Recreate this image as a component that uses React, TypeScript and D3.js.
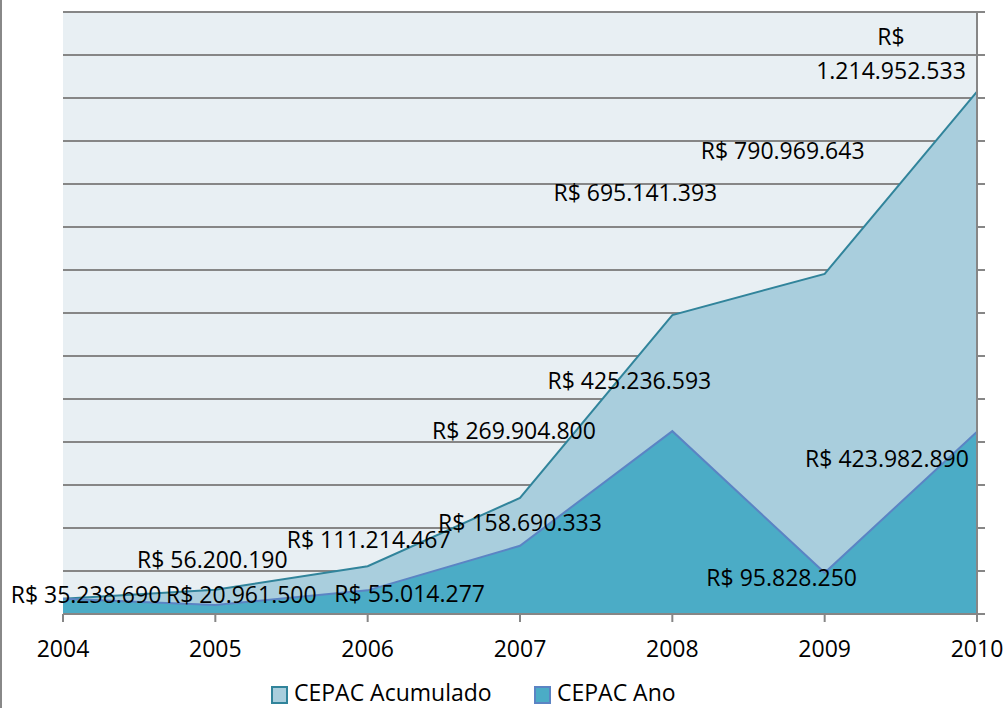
import React from "react";
import * as d3 from "d3";

const years = [2004, 2005, 2006, 2007, 2008, 2009, 2010];
const acumulado = [35238690, 56200190, 111214467, 269904800, 695141393, 790969643, 1214952533];
const ano = [35238690, 20961500, 55014277, 158690333, 425236593, 95828250, 423982890];
const seriesNames = ["CEPAC Acumulado", "CEPAC Ano"];
const yTicks = d3.range(0, 1400000001, 100000000);

// label offsets (pixels) from each data point, as Excel placed them
const acumOffsets = [[23, 4], [-3, -22], [1, -18], [-6, -59], [-37, -114], [-42, -115], [-86, -47]];
const anoOffsets = [[23, 4], [26, -2], [42, 12], [0, -15], [-43, -42], [-43, 13], [-90, 35]];

const W = 1004, H = 708;
const plot = { left: 63, right: 977, top: 12, bottom: 614 };
const FONT = "'Open Sans', sans-serif";

const locale = d3.formatLocale({ decimal: ",", thousands: ".", grouping: [3], currency: ["R$ ", ""] });
const fmt = locale.format("$,d");

export default function App() {
  const x = d3.scalePoint<number>().domain(years).range([plot.left, plot.right]);
  const y = d3.scaleLinear().domain([0, 1400000000]).range([plot.bottom, plot.top]);

  const area = d3.area<number>()
    .x((_, i) => x(years[i]) as number)
    .y0(y(0))
    .y1((d) => y(d));
  const line = d3.line<number>()
    .x((_, i) => x(years[i]) as number)
    .y((d) => y(d));

  const colors = {
    bg: "#E8EFF3",
    grid: "#868686",
    acumFill: "#A9CEDD",
    acumStroke: "#31849B",
    anoFill: "#4BACC6",
    anoStroke: "#5B84C4",
  };

  const renderLabels = (vals: number[], offs: number[][], key: string, other?: number[]) =>
    vals.map((v, i) => {
      // identical label at the same spot as the other series: draw only once
      if (other && other[i] === v) return null;
      const px = (x(years[i]) as number) + offs[i][0];
      const py = y(v) + offs[i][1];
      const txt = fmt(v);
      if (key === "acum" && i === vals.length - 1) {
        const parts = txt.split(" ");
        return (
          <text key={key + i} x={px} y={py} textAnchor="middle" fontFamily={FONT} fontSize={23} fill="#000">
            <tspan x={px} y={py}>{parts[0]}</tspan>
            <tspan x={px} y={py + 34}>{parts[1]}</tspan>
          </text>
        );
      }
      return (
        <text key={key + i} x={px} y={py} textAnchor="middle" fontFamily={FONT} fontSize={23} fill="#000">
          {txt}
        </text>
      );
    });

  return (
    <svg width={W} height={H} style={{ position: "absolute", left: 0, top: 0, background: "#fff" }}>
      <line x1={1} x2={1} y1={0} y2={H} stroke="#888" strokeWidth={2} />
      <rect x={plot.left} y={plot.top} width={plot.right - plot.left} height={plot.bottom - plot.top} fill={colors.bg} />
      {yTicks.map((t) => (
        <line key={t} x1={plot.left} x2={plot.right + 8} y1={y(t)} y2={y(t)} stroke={colors.grid} strokeWidth={2} />
      ))}
      <path d={area(acumulado) || ""} fill={colors.acumFill} />
      <path d={line(acumulado) || ""} fill="none" stroke={colors.acumStroke} strokeWidth={2} />
      <path d={area(ano) || ""} fill={colors.anoFill} />
      <path d={line(ano) || ""} fill="none" stroke={colors.anoStroke} strokeWidth={2} />
      {/* right axis line */}
      <line x1={plot.right} x2={plot.right} y1={plot.top} y2={plot.bottom} stroke={colors.grid} strokeWidth={2} />
      {/* x axis */}
      <line x1={plot.left} x2={plot.right + 8} y1={plot.bottom} y2={plot.bottom} stroke={colors.grid} strokeWidth={2} />
      {years.map((yr) => (
        <g key={yr}>
          <line x1={x(yr)} x2={x(yr)} y1={plot.bottom} y2={plot.bottom + 8} stroke={colors.grid} strokeWidth={2} />
          <text x={x(yr)} y={657} textAnchor="middle" fontFamily={FONT} fontSize={23} fill="#000">{yr}</text>
        </g>
      ))}
      {renderLabels(acumulado, acumOffsets, "acum")}
      {renderLabels(ano, anoOffsets, "ano", acumulado)}
      {/* legend */}
      <rect x={272} y={687} width={15} height={16} fill={colors.acumFill} stroke={colors.acumStroke} strokeWidth={2} />
      <text x={294} y={701} fontFamily={FONT} fontSize={23} fill="#000">{seriesNames[0]}</text>
      <rect x={535} y={687} width={15} height={16} fill={colors.anoFill} stroke={colors.anoStroke} strokeWidth={2} />
      <text x={557} y={701} fontFamily={FONT} fontSize={23} fill="#000">{seriesNames[1]}</text>
    </svg>
  );
}
